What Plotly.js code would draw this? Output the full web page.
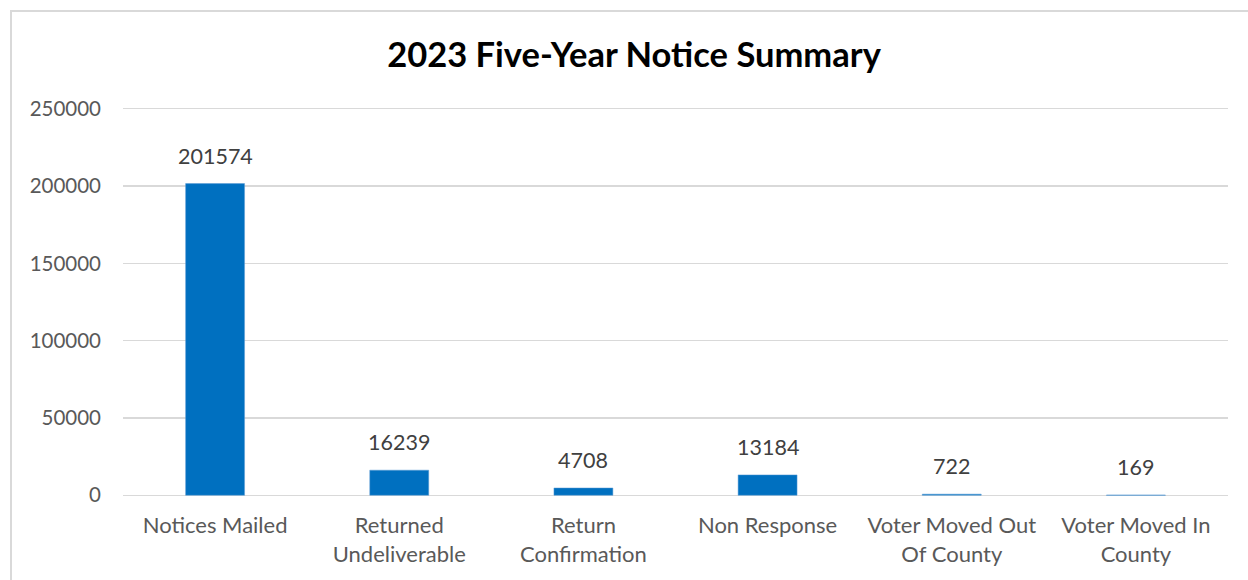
<!DOCTYPE html>
<html>
<head>
<meta charset="utf-8">
<script src="https://cdn.plot.ly/plotly-3.0.1.min.js"></script>
<style>
html,body{margin:0;padding:0;background:#fff;}
#wrap{position:relative;width:1248px;height:580px;overflow:hidden;}
#chart{position:absolute;left:0;top:0;width:1248px;height:580px;}
#frame{position:absolute;left:10px;top:10px;width:1300px;height:700px;border-left:2px solid #d9d9d9;border-top:2px solid #d9d9d9;pointer-events:none;}
</style>
</head>
<body>
<div id="wrap"><div id="chart"></div><div id="frame"></div></div>
<script>
const categories = ["Notices Mailed", "Returned<br>Undeliverable", "Return<br>Confirmation", "Non Response", "Voter Moved Out<br>Of County", "Voter Moved In<br>County"];
const values = [201574, 16239, 4708, 13184, 722, 169];
const yTicks = [0, 50000, 100000, 150000, 200000, 250000];

const FONT = "Lato, 'Open Sans', sans-serif";

const trace = {
  type: "bar",
  x: categories,
  y: values,
  marker: {color: "#0070c0", line: {color: "#5b9bd5", width: 0.5}},
  width: 0.32,
  hoverinfo: "skip"
};

const annotations = categories.map((c, i) => ({
  x: c, y: values[i], xref: "x", yref: "y",
  text: String(values[i]), showarrow: false,
  yanchor: "middle", yshift: 28,
  font: {family: FONT, size: 21.5, color: "#404040"}
}));

const layout = {
  width: 1248, height: 580,
  margin: {l: 123, r: 20, t: 101.3, b: 77.3},
  paper_bgcolor: "#fff", plot_bgcolor: "#fff",
  showlegend: false,
  title: {
    text: "<b>2023 Five-Year Notice Summary</b>",
    x: 634/1248, xanchor: "center", xref: "container",
    y: 1 - 55/580, yanchor: "middle", yref: "container",
    font: {family: FONT, size: 34.5, color: "#000"}
  },
  xaxis: {
    type: "category",
    showgrid: false, zeroline: false, showline: false,
    ticks: "", ticklabelstandoff: 7,
    tickfont: {family: FONT, size: 22, color: "#595959"},
    fixedrange: true
  },
  yaxis: {
    range: [-5000, 255000],
    tickvals: yTicks, ticktext: yTicks.map(v => String(v)),
    showgrid: true, gridcolor: "#d9d9d9", gridwidth: 1.5,
    zeroline: false, showline: false, ticks: "",
    ticklabelstandoff: 21,
    tickfont: {family: FONT, size: 20.5, color: "#595959"},
    fixedrange: true
  },
  annotations: annotations
};

Plotly.newPlot("chart", [trace], layout, {displayModeBar: false, staticPlot: true});
</script>
</body>
</html>
